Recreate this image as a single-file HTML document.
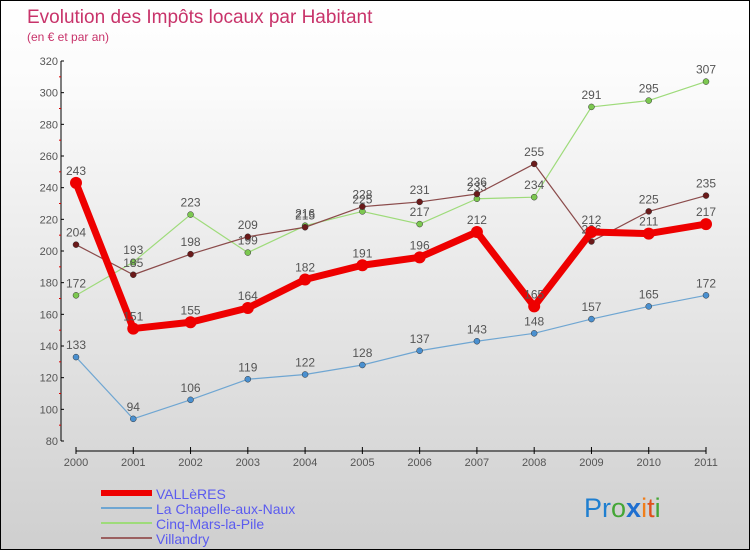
<!DOCTYPE html>
<html><head><meta charset="utf-8"><style>
html,body{margin:0;padding:0}
body{width:750px;height:550px;overflow:hidden;font-family:"Liberation Sans",sans-serif}
#wrap{position:relative;width:748px;height:548px;border:1px solid #000;background:linear-gradient(#fff,#fbfbfb 15%,#cfcfcf)}
svg{position:absolute;left:0;top:0}
</style></head><body>
<div id="wrap">
<svg id="chart" width="750" height="550">
<text x="26" y="22" font-size="19" fill="#c8336a">Evolution des Impôts locaux par Habitant</text>
<text x="26" y="40" font-size="12" fill="#c8336a">(en € et par an)</text>
<g id="axes"></g><g id="series"></g><g id="legend"></g>
<text x="583" y="516" font-size="27"><tspan fill="#1f7fd0">Pr</tspan><tspan fill="#44a636">o</tspan><tspan fill="#1f6fd0" font-weight="bold">x</tspan><tspan fill="#f07e1a">i</tspan><tspan fill="#e0501a">t</tspan><tspan fill="#44a636">i</tspan></text>
</svg></div>
<script>
const years=["2000","2001","2002","2003","2004","2005","2006","2007","2008","2009","2010","2011"];
const yTicks=[80,100,120,140,160,180,200,220,240,260,280,300,320];
const valleres=[243,151,155,164,182,191,196,212,165,212,211,217];
const chapelle=[133,94,106,119,122,128,137,143,148,157,165,172];
const cinqMars=[172,193,223,199,216,225,217,233,234,291,295,307];
const villandry=[204,185,198,209,215,228,231,236,255,206,225,235];
const NS="http://www.w3.org/2000/svg";
const X=i=>75+i*(630/(years.length-1));
const Y=v=>440-(v-80)*380/240;
function mk(t,a,p){const e=document.createElementNS(NS,t);for(const k in a)e.setAttribute(k,a[k]);p.appendChild(e);return e;}
const ax=document.getElementById('axes');
let yl=mk('line',{x1:60,y1:Y(320),x2:60,y2:Y(80),stroke:'#000'},ax);


yTicks.forEach((v,i)=>{
  mk('line',{x1:60,y1:Y(v),x2:63,y2:Y(v),stroke:'#000'},ax);
  if(i<yTicks.length-1) mk('line',{x1:58,y1:Y(v+10),x2:60,y2:Y(v+10),stroke:'#d00'},ax);
  const t=mk('text',{x:57,y:Y(v)+4,'font-size':11,fill:'#555','text-anchor':'end'},ax);t.textContent=v;
  
  
});
let xl=mk('line',{x1:75,y1:450,x2:705,y2:450,stroke:'#000'},ax);


years.forEach((y,i)=>{
  mk('line',{x1:X(i),y1:446,x2:X(i),y2:453,stroke:'#000'},ax);
  const t=mk('text',{x:X(i),y:465,'font-size':11,fill:'#555','text-anchor':'middle'},ax);t.textContent=y;
  
  
});
const sg=document.getElementById('series');
function series(data,color,dot,w,r,name){
  const g=mk('g',{},sg);
  
  
  mk('polyline',{points:data.map((v,i)=>X(i)+','+Y(v)).join(' '),fill:'none',stroke:color,'stroke-width':w,'stroke-linejoin':'round'},g);
  data.forEach((v,i)=>{
    const c=mk('circle',{cx:X(i),cy:Y(v),r:r,fill:dot,stroke:'#333','stroke-width':r>4?0:0.5},g);
    
    
    const t=mk('text',{x:X(i),y:Y(v)-8,'font-size':12,fill:'#555','text-anchor':'middle'},g);t.textContent=v;
    
    
  });
}
series(chapelle,'#6fa6d2','#4a90d0',1.2,3,'chapelle-series');
series(cinqMars,'#9edb7a','#7cc850',1.2,3,'cinq-mars-series');
series(villandry,'#8b4b4b','#6b1a1a',1.2,3,'villandry-series');
series(valleres,'#ee0000','#ee0000',7,6,'valleres-series');
const lg=document.getElementById('legend');
const items=[["VALLèRES","#ee0000",6],["La Chapelle-aux-Naux","#6fa6d2",2],["Cinq-Mars-la-Pile","#9edb7a",2],["Villandry","#9b6060",2]];
items.forEach((it,i)=>{
  const y=492+i*15;
  const g=mk('g',{},lg);
  
  
  mk('line',{x1:100,y1:y,x2:151,y2:y,stroke:it[1],'stroke-width':it[2]},g);
  const t=mk('text',{x:155,y:y+6,'font-size':14,fill:'#5b5bef'},g);t.textContent=it[0];
});
</script>
</body></html>
